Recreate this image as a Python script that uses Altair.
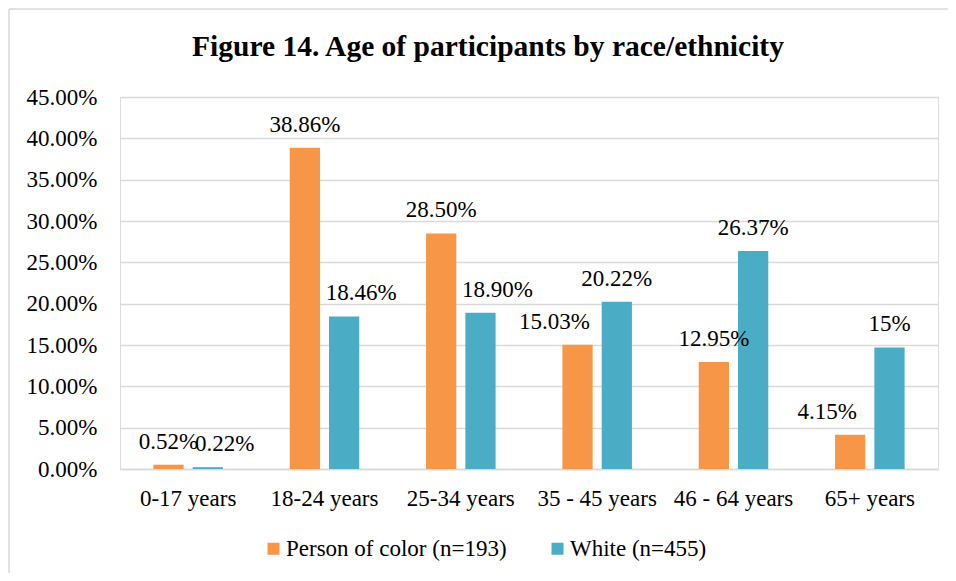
import altair as alt
import pandas as pd

categories = ["0-17 years", "18-24 years", "25-34 years", "35 - 45 years", "46 - 64 years", "65+ years"]
series = ["Person of color (n=193)", "White (n=455)"]
poc_values = [0.52, 38.86, 28.50, 15.03, 12.95, 4.15]
white_values = [0.22, 18.46, 18.90, 20.22, 26.37, 14.7]
poc_labels = ["0.52%", "38.86%", "28.50%", "15.03%", "12.95%", "4.15%"]
white_labels = ["0.22%", "18.46%", "18.90%", "20.22%", "26.37%", "15%"]
y_ticks = [0, 5, 10, 15, 20, 25, 30, 35, 40, 45]
colors = ["#F79646", "#4BACC6"]

# labels that the reference nudges sideways off their bars
nudged_right = ["0.22%", "18.46%", "18.90%"]
nudged_left = ["15.03%", "4.15%"]

rows = []
for c, v, l in zip(categories, poc_values, poc_labels):
    rows.append({"category": c, "series": series[0], "value": v, "label": l})
for c, v, l in zip(categories, white_values, white_labels):
    rows.append({"category": c, "series": series[1], "value": v, "label": l})
df = pd.DataFrame(rows)

FONT = "Times New Roman"
GRID = "#D9D9D9"

x = alt.X(
    "category:N",
    sort=categories,
    scale=alt.Scale(paddingInner=0.49, paddingOuter=0.245),
    axis=alt.Axis(
        title=None, labelAngle=0, labelFontSize=23, labelFont=FONT, labelColor="#000000",
        labelPadding=18, ticks=False, tickSize=0, domainColor=GRID, domainWidth=1.5, grid=False,
    ),
)
xo = alt.XOffset("series:N", sort=series, scale=alt.Scale(paddingInner=0.23))
y = alt.Y(
    "value:Q",
    scale=alt.Scale(domain=[0, 45], nice=False),
    axis=alt.Axis(
        title=None, values=y_ticks, labelExpr="format(datum.value, '.2f') + '%'",
        labelFontSize=23, labelFont=FONT, labelColor="#000000", labelPadding=23,
        ticks=False, tickSize=0, domain=False, gridColor=GRID, gridWidth=1.5,
    ),
)
color = alt.Color(
    "series:N",
    sort=series,
    scale=alt.Scale(domain=series, range=colors),
    legend=alt.Legend(
        orient="none", legendX=142, legendY=440, direction="horizontal", title=None,
        padding=0, symbolType="square", symbolSize=144, symbolStrokeWidth=0, labelFontSize=23,
        labelFont=FONT, labelColor="#000000", labelOffset=1, columnPadding=39, labelLimit=500,
    ),
)

bars = alt.Chart(df).mark_bar().encode(x=x, xOffset=xo, y=y, color=color)

def label_layer(dx, predicate):
    return (
        alt.Chart(df)
        .mark_text(baseline="alphabetic", dy=-16, dx=dx, fontSize=23, font=FONT, color="#000000")
        .encode(x=x, xOffset=xo, y=y, text="label:N")
        .transform_filter(predicate)
    )

labels_plain = label_layer(
    0, ~alt.FieldOneOfPredicate(field="label", oneOf=nudged_right + nudged_left)
)
labels_right = label_layer(17, alt.FieldOneOfPredicate(field="label", oneOf=nudged_right))
labels_left = label_layer(-23, alt.FieldOneOfPredicate(field="label", oneOf=nudged_left))

# light frame around the chart area (decoration)
frame_data = pd.DataFrame({"k": [0]})
frame_top = alt.Chart(frame_data).mark_rule(color=GRID, strokeWidth=1.5).encode(
    x=alt.value(-111), x2=alt.value(840), y=alt.value(-88)
)
frame_left = alt.Chart(frame_data).mark_rule(color=GRID, strokeWidth=1.5).encode(
    x=alt.value(-111), y=alt.value(-88), y2=alt.value(490)
)

chart = (
    alt.layer(frame_top, frame_left, bars, labels_plain, labels_right, labels_left)
    .properties(
        width=818,
        height=372,
        autosize="none",
        padding={"left": 112, "top": 89, "right": 10, "bottom": 104},
        title=alt.TitleParams(
            "Figure 14. Age of participants by race/ethnicity",
            font=FONT, fontSize=29.5, fontWeight="bold", color="#000000",
            anchor="middle", dx=-41, offset=-54,
        ),
    )
    .configure_view(stroke="transparent", strokeWidth=0)
    .configure_text(font=FONT)
    .configure_legend(labelFont=FONT)
    .configure(background="white", font=FONT)
)

chart.save("out.html", embed_options={"renderer": "svg", "actions": False})
